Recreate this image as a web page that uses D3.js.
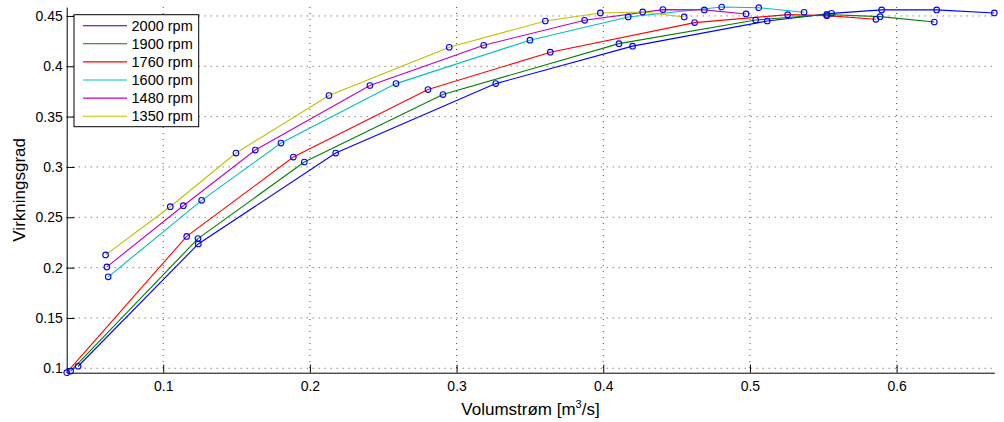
<!DOCTYPE html>
<html>
<head>
<meta charset="utf-8">
<script src="https://cdn.jsdelivr.net/npm/d3@7"></script>
<style>
  body { margin: 0; background: #fff; }
  text { font-family: "Liberation Sans", Arial, sans-serif; fill: #000; }
</style>
</head>
<body>
<div id="chart"></div>
<script>
// rpm curves: flow (m3/s) against efficiency
var labels = ["2000 rpm", "1900 rpm", "1760 rpm", "1600 rpm", "1480 rpm", "1350 rpm"]
var colors = ["#0000ff", "#008000", "#ff0000", "#00bfbf", "#bf00bf", "#bfbf00"]

var x2000 = [0.042, 0.1239, 0.2176, 0.3267, 0.420, 0.5118, 0.5557, 0.5898, 0.6273, 0.6666]
var y2000 = [0.102, 0.2235, 0.3138, 0.3828, 0.420, 0.445, 0.4526, 0.456, 0.456, 0.453]
var x1900 = [0.0369, 0.1237, 0.1962, 0.2907, 0.4107, 0.5039, 0.5524, 0.5887, 0.6257]
var y1900 = [0.0972, 0.2288, 0.3049, 0.3719, 0.4225, 0.446, 0.4515, 0.4493, 0.444]
var x1760 = [0.0342, 0.116, 0.1887, 0.2805, 0.3639, 0.4623, 0.5257, 0.5524, 0.5859]
var y1760 = [0.0956, 0.231, 0.3098, 0.3769, 0.414, 0.4434, 0.4513, 0.4503, 0.4467]
var x1600 = [0.0625, 0.1262, 0.1803, 0.2587, 0.350, 0.417, 0.4807, 0.506, 0.5369]
var y1600 = [0.1908, 0.2668, 0.3237, 0.3828, 0.4259, 0.449, 0.4589, 0.4582, 0.4537]
var x1480 = [0.0616, 0.1137, 0.1628, 0.2409, 0.3185, 0.3873, 0.4407, 0.4689, 0.4973]
var y1480 = [0.2007, 0.2615, 0.3168, 0.3809, 0.4209, 0.4457, 0.4563, 0.456, 0.452]
var x1350 = [0.0607, 0.1048, 0.1496, 0.213, 0.295, 0.3605, 0.398, 0.4269, 0.4552]
var y1350 = [0.2126, 0.2605, 0.3138, 0.371, 0.4189, 0.445, 0.453, 0.454, 0.449]

var xTicks = [0.1, 0.2, 0.3, 0.4, 0.5, 0.6]
var yTicks = [0.1, 0.15, 0.2, 0.25, 0.3, 0.35, 0.4, 0.45]

var xs = [x2000, x1900, x1760, x1600, x1480, x1350]
var ys = [y2000, y1900, y1760, y1600, y1480, y1350]

var series = labels.map(function (name, i) {
    return {
        name: name,
        color: colors[i],
        points: xs[i].map(function (v, j) { return { x: v, y: ys[i][j] } })
    }
})

var W = 1004, H = 422
var margin = { top: 7, right: 9.7, bottom: 49.3, left: 66.7 }
var w = W - margin.left - margin.right
var h = H - margin.top - margin.bottom

var allPts = d3.merge(series.map(function (s) { return s.points }))

// axis tight, like the original
var x = d3.scaleLinear().domain(d3.extent(allPts, function (d) { return d.x })).range([0, w])
var y = d3.scaleLinear().domain(d3.extent(allPts, function (d) { return d.y })).range([h, 0])

var svg = d3.select("#chart").append("svg")
    .attr("width", W)
    .attr("height", H)

var g = svg.append("g").attr("transform", "translate(" + margin.left + "," + margin.top + ")")

// dotted grid
g.append("g").selectAll("line")
    .data(xTicks)
    .enter().append("line")
    .attr("x1", function (d) { return x(d) }).attr("x2", function (d) { return x(d) })
    .attr("y1", 0).attr("y2", h)
    .attr("stroke", "#000").attr("stroke-opacity", 0.7)
    .attr("stroke-dasharray", "1,5")

g.append("g").selectAll("line")
    .data(yTicks)
    .enter().append("line")
    .attr("x1", 0).attr("x2", w)
    .attr("y1", function (d) { return y(d) }).attr("y2", function (d) { return y(d) })
    .attr("stroke", "#000").attr("stroke-opacity", 0.7)
    .attr("stroke-dasharray", "1,5")

// axes, ticks pointing inward
var xAxis = g.append("g")
    .attr("transform", "translate(0," + h + ")")
    .call(d3.axisBottom(x).tickValues(xTicks).tickSize(-8).tickSizeOuter(0)
        .tickFormat(d3.format("")))
var yAxis = g.append("g")
    .call(d3.axisLeft(y).tickValues(yTicks).tickSize(-8).tickSizeOuter(0)
        .tickFormat(d3.format("")))

xAxis.selectAll("text").style("font-size", "14px").attr("y", 8)
yAxis.selectAll("text").style("font-size", "14px").attr("x", -4)
svg.selectAll(".domain").attr("stroke", "#000")
svg.selectAll(".tick line").attr("stroke", "#000")

// curves
var line = d3.line().x(function (d) { return x(d.x) }).y(function (d) { return y(d.y) })

g.selectAll(".curve")
    .data(series)
    .enter().append("path")
    .attr("class", "curve")
    .attr("d", function (d) { return line(d.points) })
    .attr("fill", "none")
    .attr("stroke", function (d) { return d.color })
    .attr("stroke-width", 1.1)

// measured points, all as blue circles
g.append("g").selectAll("circle")
    .data(allPts)
    .enter().append("circle")
    .attr("cx", function (d) { return x(d.x) })
    .attr("cy", function (d) { return y(d.y) })
    .attr("r", 2.8)
    .attr("fill", "none")
    .attr("stroke", "#0000ff")
    .attr("stroke-width", 1.1)

// axis labels
svg.append("text")
    .attr("x", margin.left + w / 2)
    .attr("y", 415)
    .attr("text-anchor", "middle")
    .style("font-size", "17px")
    .html("Volumstrøm [m<tspan dy='-7' font-size='11px'>3</tspan><tspan dy='7'>/s]</tspan>")

svg.append("text")
    .attr("transform", "translate(25," + (margin.top + h / 2) + ") rotate(-90)")
    .attr("text-anchor", "middle")
    .style("font-size", "17px")
    .text("Virkningsgrad")

// legend
var leg = svg.append("g").attr("transform", "translate(74,14.7)")
leg.append("rect")
    .attr("width", 124.7).attr("height", 112)
    .attr("fill", "#fff").attr("stroke", "#000").attr("stroke-width", 1)

var rows = leg.selectAll(".row")
    .data(series)
    .enter().append("g")
    .attr("transform", function (d, i) { return "translate(0," + (11 + i * 18.1) + ")" })

rows.append("line")
    .attr("x1", 9).attr("x2", 53)
    .attr("stroke", function (d) { return d.color })
    .attr("stroke-width", 1.1)

rows.append("text")
    .attr("x", 57.5)
    .attr("y", 5)
    .style("font-size", "14.5px")
    .text(function (d) { return d.name })
</script>
</body>
</html>
